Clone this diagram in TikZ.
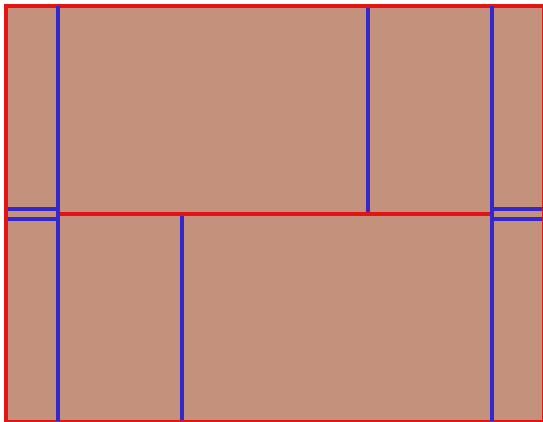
\documentclass[tikz,border=0pt]{standalone}
\definecolor{fillbrown}{RGB}{196,146,124}
\definecolor{wallred}{RGB}{226,20,20}
\definecolor{lineblue}{RGB}{50,40,205}
\tikzset{
  redline/.style={draw=wallred, line width=3.2pt},
  blueline/.style={draw=lineblue, line width=3.2pt}
}
\begin{document}
\begin{tikzpicture}[x=1pt,y=-1pt]
\useasboundingbox (0,0) rectangle (543,421);
\fill[white] (0,0) rectangle (543,421);
\fill[fillbrown] (6,6) rectangle (543,421);
% blue lines
\draw[blueline] (368,6) -- (368,214);
\draw[blueline] (182,214) -- (182,421);
\draw[blueline] (6,209) -- (58,209);
\draw[blueline] (6,219) -- (58,219);
\draw[blueline] (492,209) -- (543,209);
\draw[blueline] (492,219) -- (543,219);
% red lines
\draw[redline] (6,6) rectangle (543.5,421.5);
\draw[redline] (58,214) -- (492,214);
% full-height blue lines
\draw[blueline] (58,6) -- (58,421);
\draw[blueline] (492,6) -- (492,421);
\end{tikzpicture}
\end{document}
